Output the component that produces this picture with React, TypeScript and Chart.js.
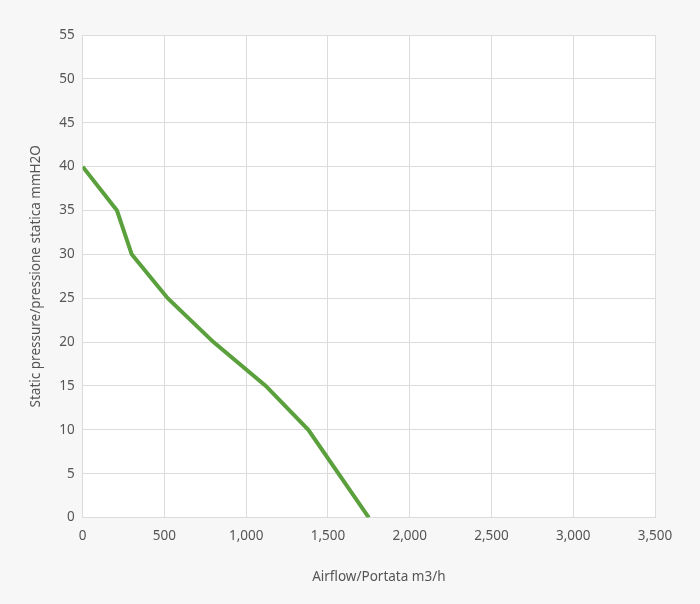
import React, { useEffect, useRef } from "react";
import { Chart, registerables } from "chart.js";

Chart.register(...registerables);

const airflow = [0, 210, 300, 520, 800, 1120, 1380, 1750];
const pressure = [40, 35, 30, 25, 20, 15, 10, 0];
const xTitle = "Airflow/Portata m3/h";
const yTitle = "Static pressure/pressione statica mmH2O";

const FONT_FAMILY = "'Noto Sans', sans-serif";
const FONT_SIZE = 13.5;

const plotBg = {
  id: "plotBg",
  beforeDraw(chart: any) {
    const { ctx, chartArea } = chart;
    ctx.save();
    ctx.fillStyle = "#f7f7f7";
    ctx.fillRect(0, 0, chart.width, chart.height);
    ctx.fillStyle = "#ffffff";
    ctx.fillRect(chartArea.left, chartArea.top, chartArea.right - chartArea.left, chartArea.bottom - chartArea.top);
    ctx.restore();
  },
};

// draws the x-axis title slightly right of the plot centre, as in the reference
const xTitleShift = {
  id: "xTitleShift",
  afterDraw(chart: any) {
    const { ctx, chartArea, scales } = chart;
    const xs = scales.x;
    ctx.save();
    ctx.fillStyle = "#555";
    ctx.font = `${FONT_SIZE}px ${FONT_FAMILY}`;
    ctx.textAlign = "center";
    ctx.textBaseline = "middle";
    const cx = (chartArea.left + chartArea.right) / 2 + 10;
    const cy = xs.bottom - FONT_SIZE * 0.6 - 3;
    ctx.fillText(xTitle, cx, cy);
    ctx.restore();
  },
};

export default function App() {
  const ref = useRef<HTMLCanvasElement>(null);
  useEffect(() => {
    document.body.style.margin = "0";
    const font = { family: FONT_FAMILY, size: FONT_SIZE };
    const chart = new Chart(ref.current!, {
      type: "line",
      data: {
        datasets: [
          {
            data: airflow.map((x, i) => ({ x, y: pressure[i] })),
            borderColor: "#5aa03c",
            borderWidth: 4,
            pointRadius: 0,
            tension: 0,
            fill: false,
          },
        ],
      },
      options: {
        animation: false,
        responsive: false,
        layout: { padding: { left: 24, right: 45, top: 35, bottom: 16 } },
        plugins: { legend: { display: false }, tooltip: { enabled: false } },
        scales: {
          x: {
            type: "linear",
            min: 0,
            max: 3500,
            ticks: { stepSize: 500, color: "#555", font, padding: 10, maxRotation: 0 },
            grid: { color: "#dcdcdc", drawTicks: false },
            border: { color: "#dcdcdc" },
            title: { display: true, text: xTitle, color: "rgba(0,0,0,0)", font, padding: { top: 14 } },
          },
          y: {
            min: 0,
            max: 55,
            ticks: { stepSize: 5, color: "#555", font, padding: 8 },
            grid: { color: "#dcdcdc", drawTicks: false },
            border: { color: "#dcdcdc" },
            title: { display: true, text: yTitle, color: "#555", font, padding: { bottom: 7 } },
          },
        },
      },
      plugins: [plotBg, xTitleShift],
    });
    return () => chart.destroy();
  }, []);
  return <canvas ref={ref} width={700} height={604} style={{ display: "block" }} />;
}
